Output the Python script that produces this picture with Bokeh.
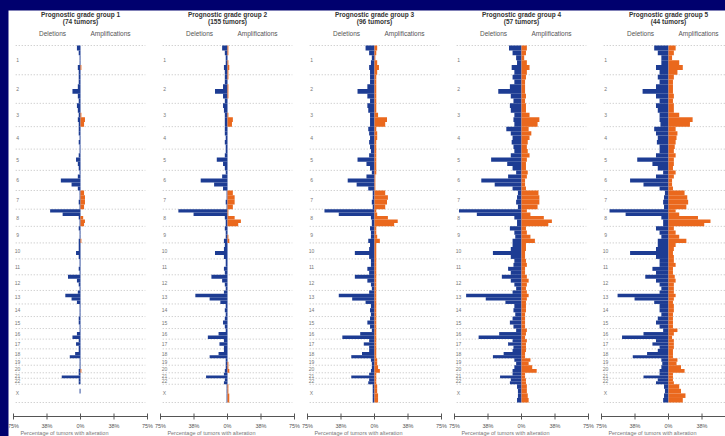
from bokeh.plotting import figure
from bokeh.models import Range1d, ColumnDataSource
from bokeh.embed import file_html
from bokeh.resources import INLINE
from bokeh.core.properties import value

# ---------------- data ----------------
CHROMS = ["1", "2", "3", "4", "5", "6", "7", "8", "9", "10", "11", "12",
          "13", "14", "15", "16", "17", "18", "19", "20", "21", "22", "X"]
CHROM_LEN = [249, 243, 198, 191, 181, 171, 159, 146, 141, 136, 135, 133,
             115, 107, 102, 90, 83, 80, 59, 64, 47, 51, 155]   # Mb

GROUP_TITLES = ["Prognostic grade group 1", "Prognostic grade group 2",
                "Prognostic grade group 3", "Prognostic grade group 4",
                "Prognostic grade group 5"]
GROUP_SIZES = ["(74 tumors)", "(155 tumors)", "(96 tumors)", "(57 tumors)", "(44 tumors)"]
HEADERS = ["Deletions", "Amplifications"]
CAPTION = "Percentage of tumors with alteration"

TICKS = [-75, -37.5, 0, 37.5, 75]
TICK_LABELS = ["75%", "38%", "0%", "38%", "75%"]

# deletion / amplification frequency (%) per chromosome segment, p-ter to q-ter
DEL_G1 = [[4, 2, 1, 1, 3, 2], [2, 2, 3, 9, 3, 2], [4, 3, 2, 3, 2], [2, 2, 1, 2, 1], [1, 2, 5, 3, 2],
          [1, 3, 22, 10, 3], [1, 1, 2, 1], [34, 20, 2, 1, 1], [2, 1, 1, 2], [2, 2, 5, 2], [1, 1, 2, 1],
          [14, 4, 2, 1], [3, 17, 10, 4], [1, 1, 1], [2, 2, 1], [1, 4, 9], [2, 5, 2], [2, 6, 12],
          [1, 1], [1, 2], [2, 21], [2, 2], [0, 1, 0, 0]]
AMP_G1 = [[0, 0, 0, 0, 1, 0], [0, 0, 0, 0, 0, 0], [0, 0, 1, 5, 4], [0, 0, 0, 0, 0], [0, 0, 0, 0, 0],
          [0, 0, 0, 0, 0], [4, 5, 5, 4], [0, 0, 3, 5, 4], [0, 0, 0, 1], [0, 0, 0, 0], [0, 0, 0, 0],
          [0, 0, 0, 0], [0, 0, 0, 0], [0, 0, 0], [0, 0, 0], [0, 0, 0], [0, 0, 0], [0, 0, 0],
          [0, 0], [0, 1], [0, 0], [0, 0], [0, 0, 0, 0]]

DEL_G2 = [[6, 3, 2, 2, 4, 3], [3, 3, 5, 14, 5, 3], [5, 4, 3, 3, 3], [3, 3, 2, 3, 2], [2, 3, 12, 5, 3],
          [2, 6, 30, 15, 5], [1, 1, 2, 1], [55, 38, 3, 2, 2], [3, 2, 2, 4], [3, 4, 14, 4], [2, 2, 4, 3],
          [18, 6, 3, 2], [4, 36, 20, 8], [2, 3, 2], [3, 5, 3], [2, 10, 22], [4, 9, 4], [4, 10, 20],
          [2, 2], [2, 3], [4, 24], [3, 4], [1, 1, 1, 1]]
AMP_G2 = [[1, 1, 0, 1, 2, 1], [1, 0, 1, 1, 1, 0], [0, 0, 1, 6, 5], [0, 0, 0, 0, 0], [0, 0, 0, 0, 0],
          [0, 0, 0, 0, 0], [6, 8, 8, 6], [1, 1, 8, 15, 12], [0, 0, 1, 2], [0, 0, 0, 0], [0, 0, 0, 0],
          [0, 0, 0, 0], [0, 0, 0, 0], [0, 0, 0], [0, 0, 0], [0, 0, 0], [0, 0, 0], [0, 0, 0],
          [0, 1], [1, 2], [0, 0], [0, 0], [1, 1, 2, 2]]

DEL_G3 = [[10, 6, 3, 4, 6, 5], [5, 5, 8, 19, 8, 5], [8, 7, 5, 5, 5], [7, 6, 5, 6, 5], [4, 6, 19, 9, 5],
          [3, 9, 30, 20, 7], [2, 2, 3, 2], [56, 40, 4, 3, 3], [5, 4, 4, 7], [5, 6, 22, 6], [4, 4, 8, 6],
          [22, 8, 4, 3], [6, 40, 25, 10], [4, 5, 4], [5, 8, 5], [3, 16, 36], [6, 12, 6], [6, 14, 26],
          [4, 3], [3, 4], [6, 26], [6, 7], [2, 2, 2, 2]]
AMP_G3 = [[3, 2, 1, 3, 5, 3], [2, 2, 2, 2, 2, 2], [2, 2, 4, 14, 12], [2, 3, 3, 2, 2], [2, 2, 2, 2, 2],
          [2, 1, 1, 1, 1], [12, 15, 14, 12], [2, 3, 15, 26, 22], [2, 2, 3, 6], [2, 2, 2, 2], [2, 2, 2, 2],
          [2, 2, 2, 2], [2, 2, 2, 2], [2, 2, 2], [2, 2, 2], [2, 2, 2], [2, 2, 2], [2, 2, 2],
          [3, 3], [4, 6], [2, 2], [2, 2], [3, 3, 4, 4]]

DEL_G4 = [[14, 10, 6, 5, 11, 8], [10, 8, 13, 26, 12, 9], [13, 12, 8, 9, 8], [17, 12, 10, 11, 9],
          [8, 12, 34, 16, 10], [6, 15, 45, 30, 10], [4, 5, 6, 4], [70, 50, 8, 5, 5], [13, 8, 7, 10],
          [10, 12, 32, 12], [8, 9, 15, 12], [22, 12, 8, 6], [10, 62, 40, 18], [8, 9, 7], [10, 13, 9],
          [6, 25, 48], [10, 15, 9], [10, 20, 32], [8, 6], [8, 10], [10, 24], [12, 13], [5, 4, 4, 5]]
AMP_G4 = [[6, 5, 3, 6, 9, 6], [5, 4, 4, 4, 5, 4], [5, 5, 9, 20, 18], [8, 11, 9, 7, 6], [7, 9, 6, 5, 5],
          [7, 6, 4, 4, 5], [19, 20, 20, 18], [6, 10, 25, 34, 30], [5, 6, 10, 15], [5, 5, 4, 4],
          [5, 6, 4, 4], [6, 8, 6, 5], [6, 8, 6, 5], [5, 5, 4], [4, 4, 4], [6, 5, 4], [6, 5, 5], [5, 4, 4],
          [10, 8], [12, 17], [4, 4], [5, 5], [6, 6, 7, 8]]

DEL_G5 = [[16, 12, 8, 8, 14, 10], [12, 10, 14, 29, 14, 10], [14, 12, 10, 10, 9], [16, 14, 12, 13, 10],
          [10, 14, 35, 18, 12], [6, 14, 43, 28, 10], [4, 5, 6, 5], [66, 48, 8, 6, 6], [14, 10, 8, 12],
          [12, 14, 43, 14], [10, 10, 18, 14], [26, 14, 10, 8], [10, 57, 38, 16], [10, 10, 8],
          [12, 14, 10], [6, 28, 52], [14, 18, 10], [12, 24, 40], [8, 7], [8, 10], [10, 28], [12, 14],
          [5, 4, 5, 6]]
AMP_G5 = [[8, 6, 4, 12, 16, 10], [6, 5, 5, 5, 6, 5], [6, 6, 12, 27, 24], [8, 10, 9, 8, 7], [6, 8, 6, 6, 5],
          [8, 6, 4, 4, 5], [18, 21, 22, 20], [8, 12, 33, 47, 40], [6, 8, 12, 20], [8, 6, 5, 6],
          [6, 8, 5, 5], [7, 8, 6, 6], [6, 8, 6, 5], [6, 6, 5], [5, 5, 5], [10, 6, 4], [6, 6, 6], [5, 5, 5],
          [10, 9], [14, 18], [5, 5], [5, 6], [12, 14, 19, 16]]

DELS = [DEL_G1, DEL_G2, DEL_G3, DEL_G4, DEL_G5]
AMPS = [AMP_G1, AMP_G2, AMP_G3, AMP_G4, AMP_G5]

# ---------------- layout / style ----------------
BLUE = "#1d3c93"
ORANGE = "#ea681d"
FONT = value("Liberation Sans")
W, H = 717, 426
PX_PER_PCT = 134.0 / 150.0          # one panel spans 75%..75% over 134 px
PANEL_STEP = 147.0 / PX_PER_PCT     # panel spacing in data units
X_START = -75 - 5 / PX_PER_PCT      # white area starts 5 px left of the first panel
X_END = X_START + W / PX_PER_PCT
PX_PER_MB = 357.0 / 3036.0
Y_TOP = -35.0 / PX_PER_MB
Y_BOT = Y_TOP + H / PX_PER_MB


def yat(px):
    return Y_TOP + px / PX_PER_MB


starts = []
acc = 0
for L in CHROM_LEN:
    starts.append(acc)
    acc += L
bounds = starts + [acc]
mids = [s + L / 2 for s, L in zip(starts, CHROM_LEN)]

p = figure(width=W, height=H, output_backend="svg", toolbar_location=None,
           x_range=Range1d(X_START, X_END), y_range=Range1d(Y_BOT, Y_TOP),
           min_border_left=0, min_border_right=0, min_border_top=0, min_border_bottom=0,
           title=None, background_fill_color="white", border_fill_color="white",
           outline_line_color=None, x_axis_location=None, y_axis_location=None)
p.grid.visible = False

for g in range(5):
    off = g * PANEL_STEP

    top, bot, dl, dr, al, ar = [], [], [], [], [], []
    for c, L in enumerate(CHROM_LEN):
        d = DELS[g][c]
        a = AMPS[g][c]
        n = len(d)
        for i in range(n):
            top.append(starts[c] + L * i / n)
            bot.append(starts[c] + L * (i + 1) / n)
            dl.append(off - d[i])
            dr.append(off)
            al.append(off)
            ar.append(off + a[i])
    src = ColumnDataSource(dict(top=top, bot=bot, dl=dl, dr=dr, al=al, ar=ar))

    # chromosome separators
    p.segment(x0=[off - 72.5] * len(bounds), x1=[off + 72.5] * len(bounds), y0=bounds, y1=bounds,
              line_color="#b0b0b0", line_width=0.8, line_dash="1 2")

    p.quad(left="dl", right="dr", top="top", bottom="bot", source=src,
           fill_color=BLUE, line_color=None)
    p.quad(left="al", right="ar", top="top", bottom="bot", source=src,
           fill_color=ORANGE, line_color=None)

    # chromosome labels
    p.text(x=[off - 70.5] * len(CHROMS), y=mids, text=CHROMS, text_font=FONT,
           text_font_size="5px", text_color="#777777", text_align="center",
           text_baseline="middle")

    # titles and headers
    p.text(x=[off], y=[yat(4)], text=[GROUP_TITLES[g]], text_font=FONT,
           text_font_size="6.5px", text_font_style="bold", text_color="#333333",
           text_align="center", text_baseline="middle")
    p.text(x=[off], y=[yat(10.5)], text=[GROUP_SIZES[g]], text_font=FONT,
           text_font_size="6.5px", text_font_style="bold", text_color="#333333",
           text_align="center", text_baseline="middle")
    p.text(x=[off - 31.3, off + 33.6], y=[yat(23), yat(23)], text=HEADERS,
           text_font=FONT, text_font_size="6.5px", text_color="#555555",
           text_align="center", text_baseline="middle")

    # bottom axis of the panel
    p.segment(x0=[off - 75], x1=[off + 75], y0=[yat(406)], y1=[yat(406)],
              line_color="#555555", line_width=1)
    tx = [off + t for t in TICKS if off + t <= X_END]
    tl = [lab for t, lab in zip(TICKS, TICK_LABELS) if off + t <= X_END - 4]
    p.segment(x0=tx, x1=tx, y0=[yat(403)] * len(tx), y1=[yat(409)] * len(tx),
              line_color="#555555", line_width=1)
    p.text(x=tx[:len(tl)], y=[yat(415)] * len(tl), text=tl, text_font=FONT,
           text_font_size="5.5px", text_color="#555555", text_align="center",
           text_baseline="middle")
    p.text(x=[off - 18], y=[yat(422.5)], text=[CAPTION], text_font=FONT,
           text_font_size="5.5px", text_color="#777777", text_align="center",
           text_baseline="middle")

html = file_html(p, INLINE)
style = ("<style>html,body{background:#00006e !important;margin:0 !important;"
         "overflow:hidden !important;}body{padding:10px 0 0 8px !important;}</style>")
html = html.replace("</head>", style + "</head>", 1)
open("out.html", "w").write(html)
